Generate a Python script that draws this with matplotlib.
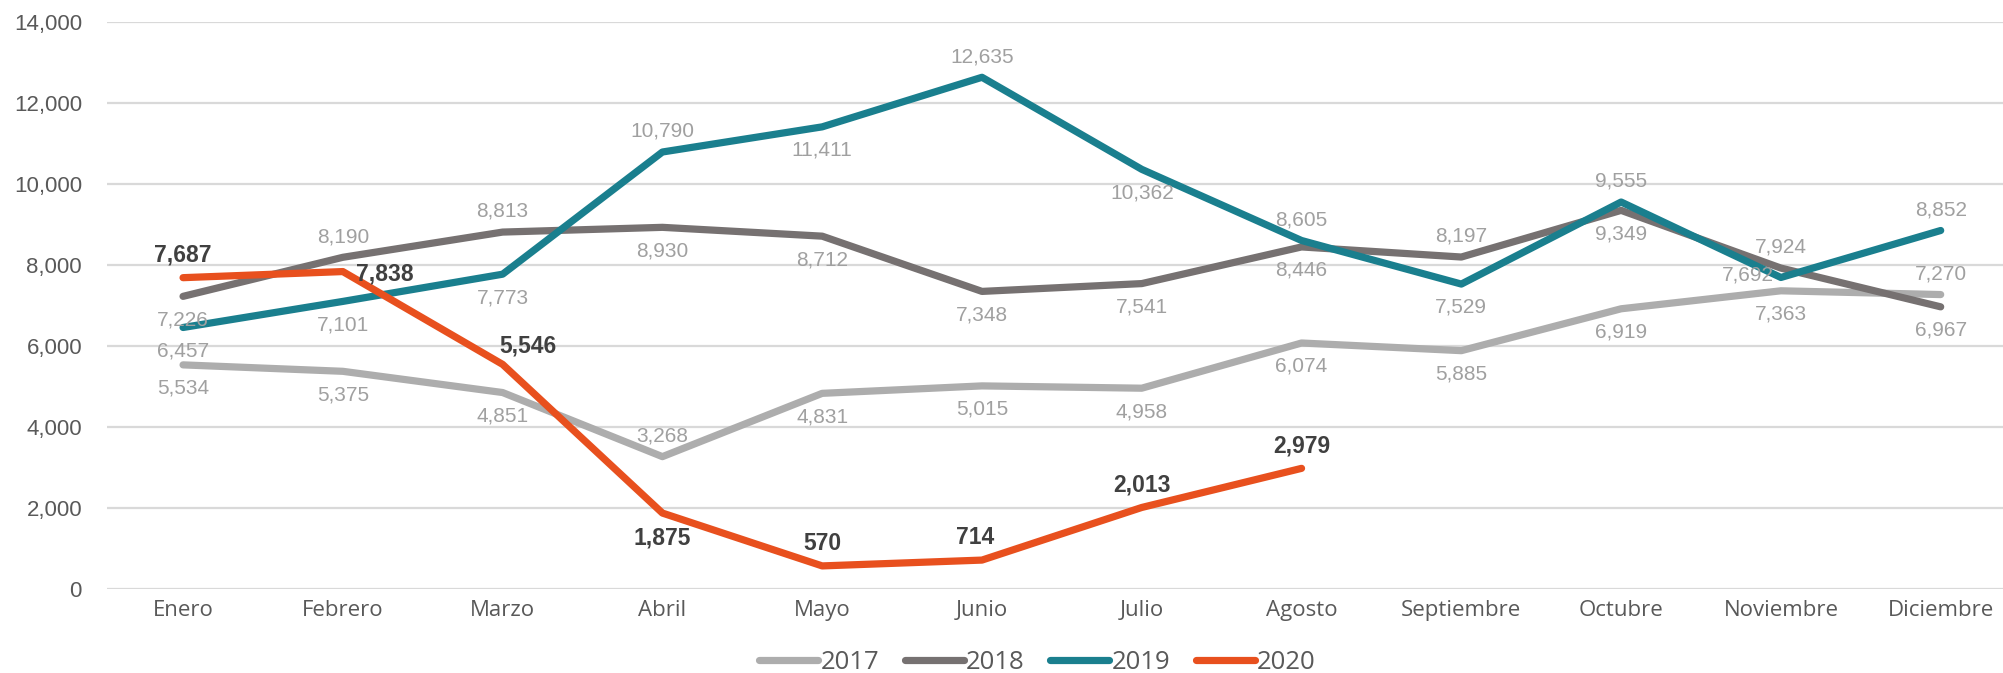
import numpy as np
from matplotlib import pyplot as plt
from matplotlib.ticker import FuncFormatter

# data
meses = ['Enero', 'Febrero', 'Marzo', 'Abril', 'Mayo', 'Junio', 'Julio',
         'Agosto', 'Septiembre', 'Octubre', 'Noviembre', 'Diciembre']
v2017 = [5534, 5375, 4851, 3268, 4831, 5015, 4958, 6074, 5885, 6919, 7363, 7270]
v2018 = [7226, 8190, 8813, 8930, 8712, 7348, 7541, 8446, 8197, 9349, 7924, 6967]
v2019 = [6457, 7101, 7773, 10790, 11411, 12635, 10362, 8605, 7529, 9555, 7692, 8852]
v2020 = [7687, 7838, 5546, 1875, 570, 714, 2013, 2979]

# where each data label sits: a=above, b=below, l=left, r=right, ar=above-right
pos2017 = ['b', 'b', 'b', 'a', 'b', 'b', 'b', 'b', 'b', 'b', 'b', 'a']
pos2018 = ['b', 'a', 'a', 'b', 'b', 'b', 'b', 'b', 'a', 'b', 'a', 'b']
pos2019 = ['b', 'b', 'b', 'a', 'b', 'a', 'b', 'a', 'b', 'a', 'l', 'a']
pos2020 = ['a', 'r', 'ar', 'b', 'a', 'al', 'a', 'a']

offsets = {
    'a': ((0, 8), 'center', 'bottom'),
    'al': ((-5, 8), 'center', 'bottom'),
    'b': ((0, -10), 'center', 'top'),
    'l': ((-24, 2), 'center', 'center'),
    'r': ((30, -2), 'center', 'center'),
    'ar': ((18, 13), 'center', 'center'),
}

series = [
    ('2017', v2017, '#ADADAD', pos2017, False),
    ('2018', v2018, '#767171', pos2018, False),
    ('2019', v2019, '#1A7F8E', pos2019, False),
    ('2020', v2020, '#E8501E', pos2020, True),
]

fig = plt.figure(figsize=(20.03, 6.73), dpi=100)
ax = fig.add_axes([107/2003, 84/673, 1896/2003, 567/673])

for name, vals, col, pos, bold in series:
    xs = np.arange(len(vals))
    ax.plot(xs, vals, color=col, lw=5.2, label=name,
            solid_capstyle='round', solid_joinstyle='round', clip_on=False)
    for x, v, p in zip(xs, vals, pos):
        off, ha, va = offsets[p]
        if bold:
            ax.annotate(f'{v:,}', (x, v), xytext=off, textcoords='offset points',
                        ha=ha, va=va, fontsize=16.5, fontweight='bold',
                        color='#404040', family='Liberation Sans')
        else:
            ax.annotate(f'{v:,}', (x, v), xytext=off, textcoords='offset points',
                        ha=ha, va=va, fontsize=15, color='#A0A0A0',
                        family='Liberation Sans')

ax.set_xlim(-0.476, 11.39)
ax.set_ylim(0, 14000)
ax.set_yticks(range(0, 14001, 2000))
ax.yaxis.set_major_formatter(FuncFormatter(lambda y, _: f'{int(y):,}'))
ax.set_xticks(range(len(meses)))
ax.set_xticklabels(meses, family='Open Sans', fontsize=16, color='#595959')
for t in ax.get_yticklabels():
    t.set_family('Liberation Sans')
    t.set_fontsize(16)
    t.set_color('#595959')
ax.tick_params(axis='both', length=0)
ax.tick_params(axis='x', pad=8)
ax.tick_params(axis='y', pad=18)

ax.yaxis.grid(True, color='#D9D9D9', lw=1.6)
ax.set_axisbelow(True)
for s in ax.spines.values():
    s.set_visible(False)

leg = fig.legend(loc='center', bbox_to_anchor=(0.518, 0.016), ncol=4,
                 frameon=False, handlelength=2.3, handletextpad=0.08,
                 columnspacing=1.0, prop={'family': 'Open Sans', 'size': 18.5})
for t in leg.get_texts():
    t.set_color('#595959')

fig.savefig('out.png', dpi=100)
